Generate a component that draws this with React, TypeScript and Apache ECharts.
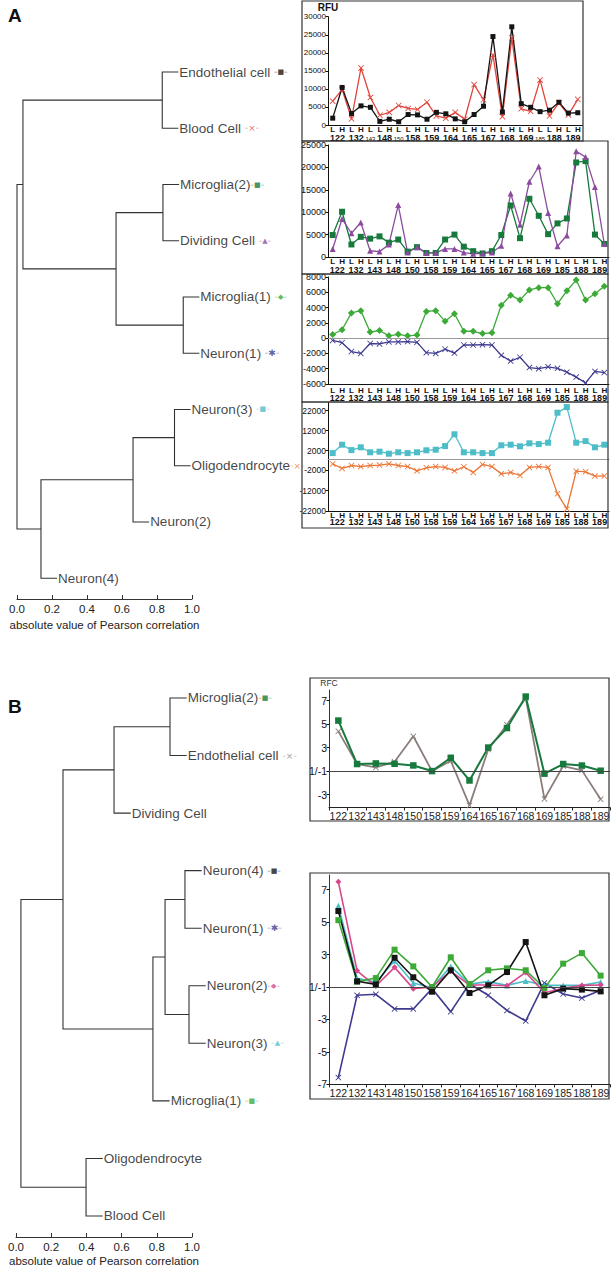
import React, { useEffect, useRef } from "react";
import * as echarts from "echarts";

const FONT = "'Liberation Sans', Arial, Helvetica, sans-serif";

// ---------- Dendrograms ----------
const leavesA = ["Endothelial cell", "Blood Cell", "Microglia(2)", "Dividing Cell", "Microglia(1)", "Neuron(1)", "Neuron(3)", "Oligodendrocyte", "Neuron(2)", "Neuron(4)"];
// [childA, childB, |Pearson r| at merge]; node ids continue after the leaves
const mergesA = [[0, 1, 0.83], [2, 3, 0.834], [4, 5, 0.95], [11, 12, 0.566], [10, 13, 0.034], [6, 7, 0.9], [15, 8, 0.663], [16, 9, 0.137], [14, 17, 0.0]];
const leavesB = ["Microglia(2)", "Endothelial cell", "Dividing Cell", "Neuron(4)", "Neuron(1)", "Neuron(2)", "Neuron(3)", "Microglia(1)", "Oligodendrocyte", "Blood Cell"];
const mergesB = [[0, 1, 0.875], [10, 2, 0.557], [3, 4, 0.96], [5, 6, 0.983], [12, 13, 0.847], [14, 7, 0.778], [11, 15, 0.267], [8, 9, 0.398], [16, 17, 0.028]];

// ---------- Categories ----------
const probes = ["122", "132", "143", "148", "150", "158", "159", "164", "165", "167", "168", "169", "185", "188", "189"];
const catsA1 = ["L122", "H122", "L132", "H132", "L143", "L148", "H148", "L150", "L158", "H158", "L159", "H159", "L164", "H164", "L165", "H165", "L167", "H167", "L168", "H168", "L169", "H169", "L185", "L188", "H188", "L189", "H189"];
const catsA = probes.flatMap((p) => ["L" + p, "H" + p]);

// ---------- Panel A values (RFU) ----------
const endothelialA = [1900, 10400, 3200, 5300, 4900, 1000, 1600, 900, 2900, 2800, 1600, 3500, 3100, 1700, 900, 2900, 5200, 24500, 3600, 27200, 5900, 4900, 3700, 4100, 6300, 3300, 3400];
const bloodA = [6600, 9800, 1700, 15800, 7600, 2700, 3500, 5400, 4600, 4300, 6300, 2500, 1900, 3500, 1600, 11200, 7000, 19400, 2300, 24100, 4500, 3800, 12500, 2500, 6100, 2800, 7100];
const microglia2A = [4900, 10100, 2800, 4500, 4100, 4600, 3200, 3900, 1200, 2200, 900, 900, 3900, 5000, 2300, 1300, 800, 1300, 4900, 11500, 4200, 13000, 9200, 5100, 7500, 8600, 21100, 21400, 5000, 2900];
const dividingA = [1800, 8500, 5300, 7700, 1400, 1200, 2800, 11600, 1000, 2200, 900, 900, 1800, 1800, 1000, 700, 800, 1000, 2500, 14200, 7200, 16800, 20200, 9800, 2400, 4800, 23600, 22300, 15600, 2900];
const microglia1A = [480, 1100, 3300, 3600, 800, 1000, 300, 500, 300, 400, 3500, 3600, 2200, 3200, 900, 900, 600, 700, 4300, 5600, 5000, 6300, 6600, 6600, 4500, 6200, 7600, 5000, 5800, 6800];
const neuron1A = [-300, -600, -1750, -2000, -700, -750, -500, -500, -450, -550, -1900, -2000, -1450, -1950, -900, -900, -850, -900, -2250, -3000, -2500, -3850, -4000, -3750, -3950, -4450, -5100, -5850, -4350, -4500];
const neuron3A = [800, 5000, 2300, 3700, 1200, 1500, 500, 1200, 800, 1200, 2200, 2500, 4300, 10200, 1200, 1200, 800, 800, 4700, 5000, 4200, 5700, 5300, 6000, 21000, 23800, 6000, 6800, 3700, 5000];
const oligoA = [1100, -1150, 300, -200, 300, 500, 1100, 300, -200, -2300, -800, -200, -650, -2300, -300, -3100, 800, -200, -3800, -3100, -4600, -650, -200, -650, -13600, -21000, -2500, -2800, -4900, -4800];

// ---------- Panel B values (RFC, fold change) ----------
const microglia2B = [5.3, 1.6, 1.65, 1.62, 1.48, 1.0, 2.13, -1.8, 3.0, 4.66, 7.34, -1.22, 1.6, 1.47, 1.03];
const endothelialB = [4.38, 1.6, 1.31, 1.79, 3.96, 1.0, 1.87, -3.92, 2.83, 4.94, 7.23, -3.37, 1.43, 1.06, -3.4];
const neuron4B = [5.68, 1.35, 1.16, 2.8, 1.6, -1.29, 2.03, -1.37, 1.1, 1.92, 3.77, -1.51, -1.1, -1.16, -1.27];
const microglia1B = [5.12, 1.33, 1.55, 3.3, 2.27, 1.0, 2.83, 1.18, 2.03, 2.15, 2.03, -1.06, 2.44, 3.09, 1.7];
const neuron2B = [7.48, 2.0, 1.06, 2.21, -1.1, 1.0, 1.98, 1.12, 1.12, 1.08, 1.9, -1.35, -1.08, 1.1, 1.12];
const neuron3B = [6.0, 1.53, 1.29, 2.62, 1.25, -1.04, 2.27, 1.18, 1.33, 1.1, 1.37, 1.1, 1.1, 1.1, 1.31];
const neuron1B = [-6.58, -1.51, -1.45, -2.35, -2.35, -1.1, -2.52, 1.2, -1.51, -2.44, -3.09, 1.25, -1.43, -1.68, -1.2];
const rfcTicks = [7, 5, 3, 1, -3, -5, -7];

// ---------- Styles ----------
const C = {
  black: "#141414",
  red: "#e2453c",
  dkgreen: "#17793b",
  purple: "#8b4c9e",
  green: "#3caa37",
  indigo: "#3e3b8f",
  cyan: "#4dbdc8",
  orange: "#ec7535",
  gray: "#8a7e7b",
  pink: "#d8488b",
};
const XPATH = "path://M1,0L5,4L9,0L10,1L6,5L10,9L9,10L5,6L1,10L0,9L4,5L0,1Z";

const markA: Record<string, [string, string, boolean]> = {
  "Endothelial cell": [C.black, "■", true],
  "Blood Cell": [C.red, "×", true],
  "Microglia(2)": [C.dkgreen, "■", false],
  "Dividing Cell": [C.purple, "▲", true],
  "Microglia(1)": [C.green, "◆", true],
  "Neuron(1)": [C.indigo, "✱", true],
  "Neuron(3)": [C.cyan, "■", true],
  Oligodendrocyte: [C.orange, "×", false],
};
const markB: Record<string, [string, string, boolean]> = {
  "Microglia(2)": [C.dkgreen, "■", false],
  "Endothelial cell": [C.gray, "×", true],
  "Neuron(4)": [C.black, "■", true],
  "Neuron(1)": [C.indigo, "✱", true],
  "Neuron(2)": [C.pink, "◆", false],
  "Neuron(3)": [C.cyan, "▲", true],
  "Microglia(1)": [C.green, "■", true],
};

const fc = (v: number) => (v >= 1 ? v - 1 : v + 1);
const fcLabel = (t: number) => (Math.abs(t) < 1e-9 ? "1/-1" : String(t > 0 ? Math.round(t + 1) : Math.round(t - 1)));
const plain = (v: number) => String(v);

function dendro(leaves: string[], merges: number[][], stub: number, axis: number, marks: Record<string, [string, string, boolean]>) {
  const n = leaves.length;
  const pos: { x: number; y: number }[] = [];
  const parentH: number[] = [];
  for (let i = 0; i < n; i++) pos[i] = { x: 0, y: i };
  merges.forEach(([a, b, h], k) => {
    parentH[a] = h;
    parentH[b] = h;
    pos[n + k] = { x: h, y: (pos[a].y + pos[b].y) / 2 };
  });
  for (let i = 0; i < n; i++) pos[i].x = parentH[i] + stub;
  const lines = merges.map(([a, b, h]) => ({
    coords: [[pos[a].x, pos[a].y], [h, pos[a].y], [h, pos[b].y], [pos[b].x, pos[b].y]],
  }));
  return [
    {
      type: "lines",
      coordinateSystem: "cartesian2d",
      xAxisIndex: axis,
      yAxisIndex: axis,
      polyline: true,
      silent: true,
      clip: false,
      lineStyle: { color: "#333", width: 1.1, opacity: 1 },
      data: lines,
    },
    {
      type: "scatter",
      xAxisIndex: axis,
      yAxisIndex: axis,
      symbolSize: 0,
      silent: true,
      clip: false,
      data: leaves.map((name, i) => {
        const mk = marks[name];
        const rich: any = {
          t: { fontSize: 13.5, color: "#111", fontFamily: FONT },
        };
        let text = `{t|${name}}`;
        if (mk) {
          rich.m = { fontSize: mk[1] === "×" || mk[1] === "✱" ? 9 : 7, color: mk[0], fontFamily: "'DejaVu Sans'" };
          rich.d = { fontSize: 7, color: mk[0], fontFamily: "'DejaVu Sans'" };
          text += (mk[2] ? "{t| }" : "") + "{d|–}{m|" + mk[1] + "}{d|–}";
        }
        return {
          value: [pos[i].x, i],
          label: { show: true, position: "right", distance: 1, formatter: text, rich },
        };
      }),
    },
  ];
}

function groupCats(cats: string[]) {
  const g: { i0: number; i1: number; label: string }[] = [];
  cats.forEach((c, i) => {
    const p = c.slice(1);
    const last = g[g.length - 1];
    if (last && last.label === p) last.i1 = i;
    else g.push({ i0: i, i1: i, label: p });
  });
  return g;
}

function numberRow(axis: number, cats: string[], yMin: number, offset: number, smallSingles: boolean) {
  const groups = groupCats(cats);
  return {
    type: "custom",
    xAxisIndex: axis,
    yAxisIndex: axis,
    clip: false,
    silent: true,
    encode: { x: [0, 1], y: 2 },
    data: groups.map((g) => [g.i0, g.i1, yMin]),
    renderItem: (params: any, api: any) => {
      const g = groups[params.dataIndex];
      const p0 = api.coord([api.value(0), api.value(2)]);
      const p1 = api.coord([api.value(1), api.value(2)]);
      const small = smallSingles && g.i0 === g.i1;
      return {
        type: "text",
        x: (p0[0] + p1[0]) / 2,
        y: p0[1] + (small ? offset + 1 : offset),
        style: {
          text: g.label,
          fontSize: small ? 6 : 9,
          fontWeight: small ? "normal" : "bold",
          fontFamily: FONT,
          fill: "#111",
          align: "center",
          verticalAlign: "middle",
        },
      };
    },
  };
}

function catAxis(grid: number, data: string[], margin: number, showLabel = true, lineColor = "#111") {
  return {
    type: "category",
    gridIndex: grid,
    data,
    boundaryGap: true,
    axisLine: { show: true, onZero: false, lineStyle: { color: lineColor, width: 1 } },
    axisTick: { show: false },
    axisLabel: {
      show: showLabel,
      interval: 0,
      formatter: (v: string) => v.charAt(0),
      fontSize: 8,
      fontWeight: "bold",
      color: "#111",
      margin,
      fontFamily: FONT,
    },
    splitLine: { show: false },
  };
}

function valAxis(grid: number, min: number, max: number, fontSize: number, extra: any = {}) {
  const { interval, customValues, name, formatter } = extra;
  return {
    type: "value",
    gridIndex: grid,
    min,
    max,
    interval,
    name,
    nameLocation: "end",
    nameGap: 4,
    nameTextStyle: { fontSize: 10, fontWeight: "bold", color: "#111", fontFamily: FONT, align: "center" },
    axisLine: { show: true, onZero: false, lineStyle: { color: "#111", width: 1 } },
    axisTick: { show: true, length: 2.5, lineStyle: { color: "#111" }, customValues },
    axisLabel: { fontSize, color: "#111", margin: 2, fontFamily: FONT, customValues, formatter: formatter || plain },
    splitLine: { show: false },
  };
}

function lineS(axis: number, data: number[], color: string, symbol: string, size: number, width = 1.3, extra: any = {}) {
  return {
    type: "line",
    xAxisIndex: axis,
    yAxisIndex: axis,
    data,
    symbol,
    symbolSize: size,
    showSymbol: true,
    showAllSymbol: true,
    lineStyle: { color, width },
    itemStyle: { color, borderWidth: 0 },
    z: 3,
    silent: true,
    ...extra,
  };
}

const zeroLine = (color: string) => ({
  silent: true,
  symbol: ["none", "none"],
  label: { show: false },
  lineStyle: { color, width: 1, type: "solid" },
  data: [{ yAxis: 0 }],
});

function dendroXAxis(grid: number, nameGap: number) {
  return {
    type: "value",
    gridIndex: grid,
    min: 0,
    max: 1,
    interval: 0.2,
    axisLine: { show: true, onZero: false, lineStyle: { color: "#333", width: 1 } },
    axisTick: { show: true, inside: true, length: 4, lineStyle: { color: "#333" } },
    axisLabel: { formatter: (v: number) => v.toFixed(1), fontSize: 11.5, color: "#222", margin: 4, fontFamily: FONT },
    splitLine: { show: false },
    name: "absolute value of Pearson correlation",
    nameLocation: "middle",
    nameGap,
    nameTextStyle: { fontSize: 11.5, color: "#222", fontFamily: FONT },
  };
}

function buildOption() {
  const gridDefs = [
    { left: 17, top: 43.9, width: 175, height: 555.1 },
    { left: 328, top: 16.7, width: 254.5, height: 108.3 },
    { left: 328, top: 145, width: 281, height: 112 },
    { left: 328, top: 277, width: 281, height: 107 },
    { left: 328, top: 402.7, width: 281, height: 57 },
    { left: 328, top: 460, width: 281, height: 51 },
    { left: 16, top: 669.2, width: 176, height: 567.8 },
    { left: 329, top: 690, width: 281, height: 117.5 },
    { left: 329, top: 875, width: 281, height: 209.4 },
  ];
  const grid = gridDefs.map((g) => ({ ...g, containLabel: false, outerBoundsMode: "none" }));

  const probeAxis = (g: number) => ({
    type: "category",
    gridIndex: g,
    data: probes,
    boundaryGap: true,
    axisLine: { show: true, onZero: false, lineStyle: { color: "#222", width: 1 } },
    axisTick: { show: true, length: 3, lineStyle: { color: "#222" } },
    axisLabel: { interval: 0, fontSize: 10.5, color: "#222", margin: 3, fontFamily: FONT },
    splitLine: { show: false },
  });
  const rfcCustom = (min: number) => rfcTicks.map(fc).filter((t) => t >= min - 1e-9 && t <= 6.9);

  const xAxis = [
    dendroXAxis(0, 20),
    catAxis(1, catsA1, 0),
    catAxis(2, catsA, 0),
    catAxis(3, catsA, 2),
    catAxis(4, catsA, 0, false, "#999"),
    catAxis(5, catsA, 0),
    dendroXAxis(6, 18),
    probeAxis(7),
    probeAxis(8),
  ];
  const yAxis: any[] = [
    { type: "value", gridIndex: 0, show: false, inverse: true, min: -0.5, max: 9.37 },
    valAxis(1, 0, 30000, 8, { interval: 5000, name: "RFU" }),
    valAxis(2, 0, 25000, 9, { interval: 5000 }),
    valAxis(3, -6000, 8000, 9, { interval: 2000 }),
    valAxis(4, -2500, 26000, 8.5, { customValues: [2000, 12000, 22000] }),
    valAxis(5, -22000, 3000, 8.5, { customValues: [-22000, -12000, -2000] }),
    { type: "value", gridIndex: 6, show: false, inverse: true, min: -0.5, max: 9.365 },
    {
      ...valAxis(7, -3.1, 6.9, 10.5, { customValues: rfcCustom(-3.1), formatter: fcLabel, name: "RFC" }),
      nameTextStyle: { fontSize: 8.5, color: "#333", fontFamily: FONT, align: "center" },
      nameGap: 3,
    },
    valAxis(8, -6, 6.9, 10.5, { customValues: rfcCustom(-6), formatter: fcLabel }),
  ];
  yAxis[7].axisLine.lineStyle.color = "#333";
  yAxis[8].axisLine.lineStyle.color = "#333";

  const series: any[] = [
    ...dendro(leavesA, mergesA, 0.092, 0, markA),
    ...dendro(leavesB, mergesB, 0.095, 6, markB),
    // A1
    lineS(1, bloodA, C.red, XPATH, 6),
    lineS(1, endothelialA, C.black, "rect", 5),
    numberRow(1, catsA1, 0, 12.5, true),
    // A2
    lineS(2, microglia2A, C.dkgreen, "rect", 6),
    lineS(2, dividingA, C.purple, "triangle", 6),
    numberRow(2, catsA, 0, 12.5, false),
    // A3
    lineS(3, microglia1A, C.green, "diamond", 7, 1.3, { markLine: zeroLine("#999") }),
    lineS(3, neuron1A, C.indigo, XPATH, 6),
    numberRow(3, catsA, -6000, 14, false),
    // A4
    lineS(4, neuron3A, C.cyan, "rect", 6),
    lineS(5, oligoA, C.orange, XPATH, 6),
    numberRow(5, catsA, -22000, 11, false),
    // B1
    lineS(7, endothelialB.map(fc), C.gray, XPATH, 6, 1.8),
    lineS(7, microglia2B.map(fc), C.dkgreen, "rect", 6.5, 2, { markLine: zeroLine("#444") }),
    // B2
    lineS(8, neuron1B.map(fc), C.indigo, XPATH, 6, 1.6, { markLine: zeroLine("#444") }),
    lineS(8, neuron3B.map(fc), C.cyan, "triangle", 6, 1.6),
    lineS(8, neuron2B.map(fc), C.pink, "diamond", 6, 1.6),
    lineS(8, microglia1B.map(fc), C.green, "rect", 6, 1.6),
    lineS(8, neuron4B.map(fc), C.black, "rect", 6, 1.6),
  ];

  const box = (x: number, y: number, w: number, h: number) => ({
    type: "rect",
    shape: { x, y, width: w, height: h },
    style: { fill: "none", stroke: "#333", lineWidth: 1.2 },
    silent: true,
    z: 10,
  });
  const graphic = [
    box(302, 1, 281, 140),
    box(302, 141, 306, 133),
    box(302, 274, 306, 128),
    box(302, 402, 306, 126),
    box(310, 678, 299, 143),
    box(310, 873, 299, 226),
    { type: "text", x: 8, y: 15, style: { text: "A", fontSize: 19, fontWeight: "bold", fontFamily: FONT, fill: "#111", verticalAlign: "middle" } },
    { type: "text", x: 8, y: 706, style: { text: "B", fontSize: 19, fontWeight: "bold", fontFamily: FONT, fill: "#111", verticalAlign: "middle" } },
  ];

  return {
    animation: false,
    backgroundColor: "#ffffff",
    textStyle: { fontFamily: FONT },
    grid,
    xAxis,
    yAxis,
    series,
    graphic,
  };
}

export default function App() {
  const ref = useRef<HTMLDivElement>(null);
  useEffect(() => {
    document.body.style.margin = "0";
    const chart = echarts.init(ref.current as HTMLDivElement, null, { renderer: "svg", width: 613, height: 1268 });
    chart.setOption(buildOption() as any);
    return () => chart.dispose();
  }, []);
  return <div ref={ref} style={{ position: "absolute", left: 0, top: 0, width: 613, height: 1268 }} />;
}
